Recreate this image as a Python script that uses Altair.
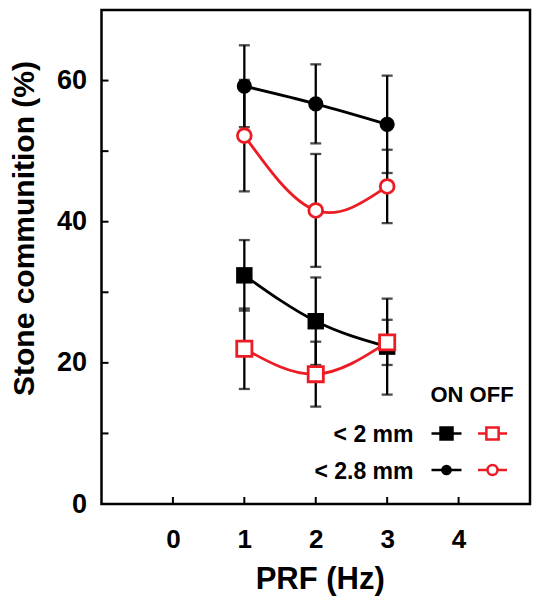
import altair as alt
import pandas as pd

# ---- data ----
prf = [1, 2, 3]
on_2mm = [32.4, 25.9, 22.3]
on_2mm_err = [5.0, 6.2, 6.8]
off_2mm = [22.0, 18.4, 22.9]
off_2mm_err = [5.7, 4.6, 3.2]
on_28mm = [59.2, 56.7, 53.8]
on_28mm_err = [5.8, 5.6, 6.9]
off_28mm = [52.2, 41.6, 45.0]
off_28mm_err = [7.9, 8.0, 5.2]

x_tick_values = [0, 1, 2, 3, 4]
y_label_values = [0, 20, 40, 60]
y_tick_values = [10, 20, 30, 40, 50, 60]
legend_header = ["ON OFF"]
legend_rows = ["< 2 mm", "< 2.8 mm"]

RED = "#ec1c24"
W, H = 428.5, 494
FONT = "Liberation Sans"

xs = alt.Scale(domain=[-1, 5], nice=False, zero=False)
ys = alt.Scale(domain=[0, 70], nice=False, zero=False)

AX = alt.Axis(
    values=x_tick_values, title="PRF (Hz)", domain=False, ticks=False, tickSize=0,
    grid=False, labelPadding=22, titleBaseline="alphabetic", titleY=84, titleX=W / 2 + 4,
    labelFontSize=26, titleFontSize=31)
AY = alt.Axis(
    values=y_label_values, title="Stone communition (%)", domain=False, ticks=False,
    tickSize=0, grid=False, labelPadding=15, titleAngle=270, titleBaseline="alphabetic",
    titleX=-68, titleY=218, labelFontSize=27, titleFontSize=30)


def XE(f):
    return alt.X(f, scale=xs, axis=AX)


def YE(f):
    return alt.Y(f, scale=ys, axis=AY)


def series(vals, errs, shape, color, filled, size):
    df = pd.DataFrame({
        "prf": prf,
        "v": vals,
        "lo": [v - e for v, e in zip(vals, errs)],
        "hi": [v + e for v, e in zip(vals, errs)],
    })
    base = alt.Chart(df)
    bar = base.mark_rule(color="black", strokeWidth=2.3).encode(
        x=XE("prf:Q"), y=YE("lo:Q"), y2="hi:Q")
    caps = [base.mark_tick(orient="horizontal", color="black", size=11, thickness=2.3).encode(
        x=XE("prf:Q"), y=YE(f"{c}:Q")) for c in ("lo", "hi")]
    line = base.mark_line(color=color, strokeWidth=2.8, interpolate="natural").encode(
        x=XE("prf:Q"), y=YE("v:Q"))
    if filled:
        pts = base.mark_point(shape=shape, filled=True, fill=color, stroke=color,
                              strokeWidth=0, size=size, opacity=1)
    else:
        pts = base.mark_point(shape=shape, fill="white", stroke=color,
                              strokeWidth=2.8, size=size, opacity=1)
    pts = pts.encode(x=XE("prf:Q"), y=YE("v:Q"))
    return [bar] + caps, [line], [pts]


s = [
    series(on_28mm, on_28mm_err, "circle", "black", True, 230),
    series(off_28mm, off_28mm_err, "circle", RED, False, 190),
    series(on_2mm, on_2mm_err, "square", "black", True, 270),
    series(off_2mm, off_2mm_err, "square", RED, False, 230),
]
errs = [l for a in s for l in a[0]]
lines = [l for a in s for l in a[1]]
pts = [l for a in s for l in a[2]]

# inward ticks
xt = alt.Chart(pd.DataFrame({"t": x_tick_values})).mark_rule(color="black", strokeWidth=2).encode(
    x=XE("t:Q"), y=alt.value(H), y2=alt.value(H - 7))
yt = alt.Chart(pd.DataFrame({"t": y_tick_values})).mark_rule(color="black", strokeWidth=2).encode(
    y=YE("t:Q"), x=alt.value(0), x2=alt.value(7))

one = pd.DataFrame({"a": [0]})


def txt(t, x, y, align, fs):
    return alt.Chart(one).mark_text(text=t, align=align, baseline="alphabetic", font=FONT,
                                    fontWeight="bold", fontSize=fs, color="black").encode(
        x=alt.value(x), y=alt.value(y))


def sample(x1, x2, y, shape, color, filled, size):
    r = alt.Chart(one).mark_rule(color=color, strokeWidth=2.5).encode(
        x=alt.value(x1), x2=alt.value(x2), y=alt.value(y))
    if filled:
        p = alt.Chart(one).mark_point(shape=shape, filled=True, fill=color, strokeWidth=0,
                                      size=size, opacity=1)
    else:
        p = alt.Chart(one).mark_point(shape=shape, fill="white", stroke=color, strokeWidth=2.5,
                                      size=size, opacity=1)
    p = p.encode(x=alt.value((x1 + x2) / 2), y=alt.value(y))
    return [r, p]


legend = [
    txt(legend_header[0], 329, 391.5, "left", 22),
    txt(legend_rows[0], 312, 431.5, "right", 23),
    txt(legend_rows[1], 312, 468.5, "right", 23),
]
legend += sample(330, 360, 423.5, "square", "black", True, 210)
legend += sample(376.5, 405.5, 423.5, "square", RED, False, 150)
legend += sample(330, 360, 460, "circle", "black", True, 115)
legend += sample(376.5, 405.5, 460, "circle", RED, False, 100)

chart = alt.layer(xt, yt, *errs, *lines, *pts, *legend).properties(
    width=W, height=H,
    autosize=alt.AutoSizeParams(type="none"),
    padding={"left": 93.5, "top": 2, "right": 2, "bottom": 92},
).configure_view(stroke="black", strokeWidth=2.5).configure_axis(
    labelFont=FONT, titleFont=FONT, labelFontWeight="bold", titleFontWeight="bold",
    labelColor="black", titleColor="black")

chart.save("out.html", embed_options={"renderer": "svg", "actions": False})
